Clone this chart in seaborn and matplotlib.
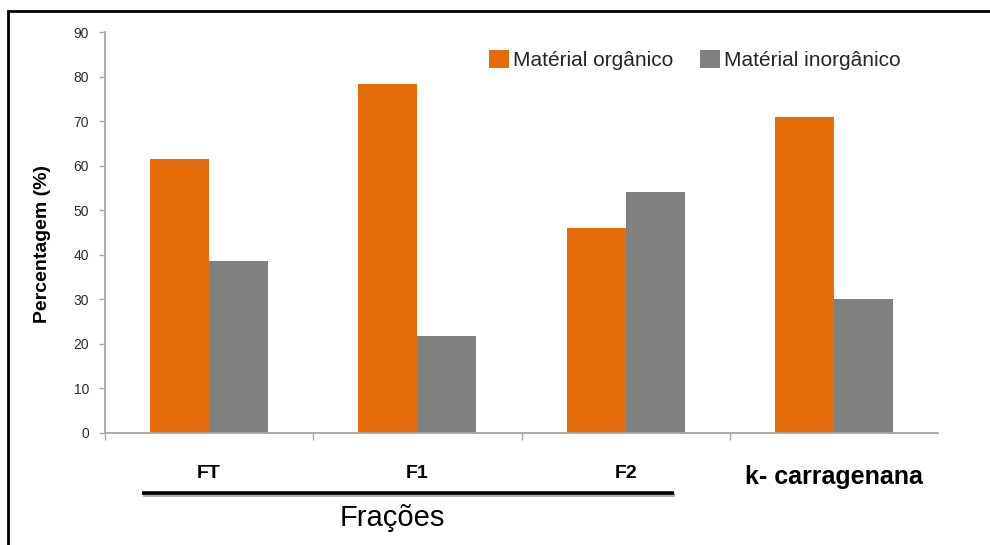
import matplotlib
matplotlib.use("Agg")
import matplotlib.pyplot as plt
from matplotlib.lines import Line2D
from matplotlib.patches import Rectangle
import seaborn as sns
import pandas as pd

# Data
categorias = ["FT", "F1", "F2", "k- carragenana"]
organico = [61.4, 78.3, 45.9, 70.9]
inorganico = [38.6, 21.7, 54.1, 30.1]
series = ["Matérial orgânico", "Matérial inorgânico"]
yticks = [0, 10, 20, 30, 40, 50, 60, 70, 80, 90]

df = pd.DataFrame({
    "categoria": categorias * 2,
    "valor": organico + inorganico,
    "material": [series[0]] * len(categorias) + [series[1]] * len(categorias),
})

sns.set_theme(style="white")
plt.rcParams["font.family"] = ["Liberation Sans", "DejaVu Sans"]

LARANJA = "#E46C0A"
CINZA = "#808080"
EIXO = "#A6A6A6"

fig = plt.figure(figsize=(9.9, 5.45), dpi=100)
ax = fig.add_axes([105 / 990, 1 - 433 / 545, 833 / 990, 401 / 545])

sns.barplot(data=df, x="categoria", y="valor", hue="material",
            palette=[LARANJA, CINZA], width=0.567, gap=0,
            linewidth=0, saturation=1, ax=ax)

ax.set_xlim(-0.5, 3.5)
ax.set_ylim(0, 90)
ax.set_yticks(yticks)
ax.set_yticklabels([str(v) for v in yticks])

for s in ["top", "right"]:
    ax.spines[s].set_visible(False)
for s in ["left", "bottom"]:
    ax.spines[s].set_color(EIXO)
    ax.spines[s].set_linewidth(1.3)

ax.tick_params(axis="y", direction="out", length=4.5, width=1, color=EIXO,
               pad=7, labelsize=10, labelcolor="#2A2A3A", left=True)

# category labels below the axis, separator ticks between groups
ax.set_xticks(range(len(categorias)))
ax.set_xticklabels(categorias)
ax.set_xticks([-0.5, 0.5, 1.5, 2.5], minor=True)
ax.tick_params(axis="x", which="major", length=0, pad=23)
ax.tick_params(axis="x", which="minor", direction="out", length=5,
               width=1, color=EIXO, bottom=True)
for i, lab in enumerate(ax.get_xticklabels()):
    lab.set_fontweight("bold")
    lab.set_color("black")
    lab.set_fontsize(18 if i == 3 else 14)

ax.set_xlabel("")
ax.set_ylabel("Percentagem (%)", fontsize=14, fontweight="bold",
              color="black", va="center")
ax.yaxis.set_label_coords(-0.0756, 0.471)

# legend
handles, labels = ax.get_legend_handles_labels()
ax.legend(handles, labels, ncol=2, frameon=False, fontsize=15,
          handlelength=0.95, handleheight=0.95, handletextpad=0.2,
          columnspacing=1.3, borderpad=0, borderaxespad=0,
          loc="upper left", bbox_to_anchor=(489 / 990, 1 - 50 / 545),
          bbox_transform=fig.transFigure)

# underline grouping the fractions, with a faint shadow
y_line = 1 - 493 / 545
fig.add_artist(Line2D([143 / 990, 675 / 990], [y_line - 2 / 545, y_line - 2 / 545],
                      transform=fig.transFigure, color="#B0B0B0", lw=2.8,
                      solid_capstyle="butt"))
fig.add_artist(Line2D([142 / 990, 674 / 990], [y_line, y_line],
                      transform=fig.transFigure, color="black", lw=2.6,
                      solid_capstyle="butt"))
fig.text(392 / 990, 1 - 518 / 545, "Frações", fontsize=21,
         ha="center", va="center", color="black")

# outer frame
fig.add_artist(Rectangle((8 / 990, -0.2), 1.2, 1.2 - 11 / 545,
                         transform=fig.transFigure, fill=False,
                         edgecolor="black", lw=2))

fig.savefig("out.png", dpi=100)
